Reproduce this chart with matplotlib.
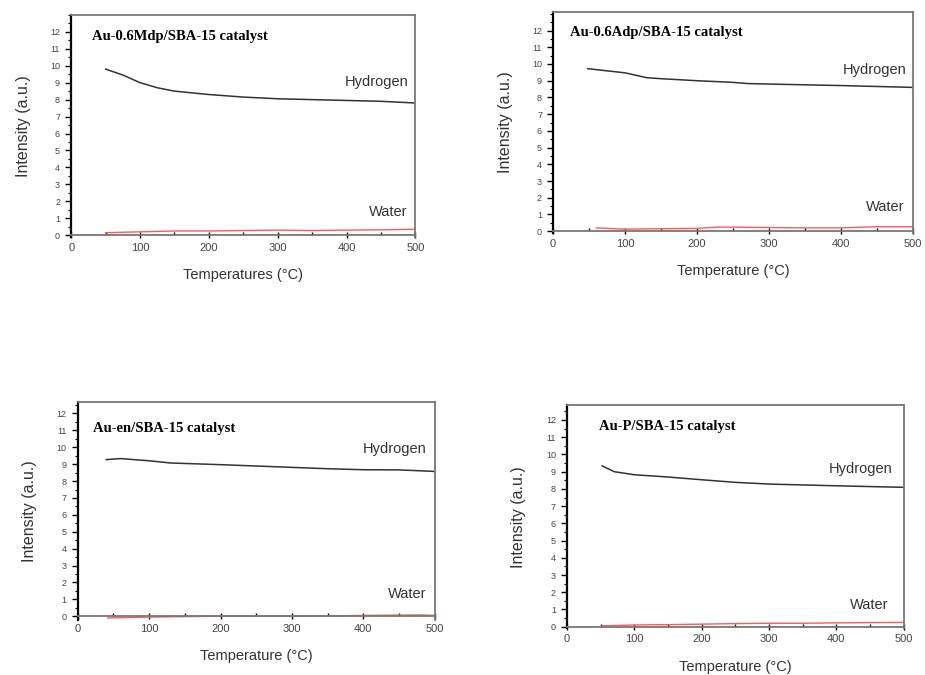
import numpy as np
import matplotlib.pyplot as plt
from matplotlib.ticker import MultipleLocator

plt.rcParams["font.family"] = ["Liberation Sans", "DejaVu Sans"]

# panel titles / axis labels
titles = ['Au-0.6Mdp/SBA-15 catalyst', 'Au-0.6Adp/SBA-15 catalyst',
          'Au-en/SBA-15 catalyst', 'Au-P/SBA-15 catalyst']
xlabels = ['Temperatures (°C)', 'Temperature (°C)', 'Temperature (°C)', 'Temperature (°C)']

# Hydrogen signal
h2_x = [
    [50, 75, 100, 125, 150, 200, 250, 300, 350, 400, 450, 500],
    [48, 100, 130, 150, 200, 250, 270, 300, 400, 500],
    [40, 60, 100, 130, 200, 300, 350, 400, 450, 500],
    [52, 70, 100, 150, 200, 250, 300, 400, 500],
]
h2_y = [
    [9.8, 9.45, 9.0, 8.7, 8.5, 8.3, 8.15, 8.05, 8.0, 7.95, 7.9, 7.8],
    [9.72, 9.47, 9.18, 9.12, 9.0, 8.9, 8.83, 8.8, 8.71, 8.6],
    [9.27, 9.33, 9.2, 9.07, 8.97, 8.81, 8.73, 8.67, 8.66, 8.57],
    [9.34, 9.0, 8.82, 8.69, 8.53, 8.38, 8.28, 8.18, 8.09],
]

# Water signal
w_x = [
    [50, 100, 150, 200, 250, 300, 350, 400, 450, 500],
    [60, 100, 150, 200, 230, 300, 350, 400, 450, 500],
    [42, 100, 150, 200, 250, 300, 350, 400, 480, 500],
    [52, 100, 150, 200, 250, 300, 350, 400, 450, 500],
]
w_y = [
    [0.15, 0.2, 0.25, 0.25, 0.28, 0.3, 0.28, 0.3, 0.32, 0.35],
    [0.2, 0.12, 0.15, 0.17, 0.25, 0.22, 0.2, 0.2, 0.27, 0.27],
    [-0.1, -0.05, -0.02, 0.0, 0.0, 0.0, 0.02, 0.05, 0.08, 0.05],
    [0.05, 0.1, 0.12, 0.15, 0.18, 0.2, 0.2, 0.22, 0.24, 0.25],
]

# layout: [left, bottom, width, height], ylim top, text spots
boxes = [[0.077, 0.649, 0.372, 0.329], [0.598, 0.655, 0.389, 0.327],
         [0.084, 0.082, 0.386, 0.323], [0.613, 0.069, 0.364, 0.331]]
ytops = [13.0, 13.1, 12.7, 12.87]
ybots = [-0.1, -0.1, -0.2, -0.1]
title_pos = [(30, 11.7), (23, 11.9), (21, 11.1), (47, 11.6)]
hyd_pos = [(490, 9.06), (491, 9.66), (488, 9.9), (483, 9.15)]
wat_pos = [(488, 1.36), (488, 1.45), (488, 1.3), (477, 1.24)]

fig = plt.figure(figsize=(9.25, 6.75), dpi=100)
for i in range(4):
    ax = fig.add_axes(boxes[i])
    ax.plot(h2_x[i], h2_y[i], color='#333333', linewidth=1.1)
    ax.plot(w_x[i], w_y[i], color='#ff5a5a', linewidth=1.0)
    ax.set_xlim(0, 500)
    ax.set_ylim(ybots[i], ytops[i])
    ax.xaxis.set_major_locator(MultipleLocator(100))
    ax.xaxis.set_minor_locator(MultipleLocator(50))
    ax.yaxis.set_major_locator(MultipleLocator(1))
    ax.yaxis.set_minor_locator(MultipleLocator(0.5))
    ax.set_yticks(np.arange(0, 13))
    ax.tick_params(axis='y', which='major', direction='out', length=4, width=1,
                   labelsize=6.5, labelcolor='#444444', pad=4)
    ax.tick_params(axis='y', which='minor', direction='out', length=2, width=0.8)
    ax.tick_params(axis='x', which='major', direction='inout', length=5, width=1,
                   labelsize=8, labelcolor='#444444', pad=3)
    ax.tick_params(axis='x', which='minor', direction='in', length=2, width=1)
    for s in ['top', 'right', 'bottom']:
        ax.spines[s].set_color('#777777')
        ax.spines[s].set_linewidth(1.3)
    ax.spines['bottom'].set_position(('data', 0))
    ax.spines['left'].set_color('black')
    ax.spines['left'].set_linewidth(1.6)
    ax.set_xlabel(xlabels[i], fontsize=10.5, color='#333333', labelpad=11)
    ax.set_ylabel('Intensity (a.u.)', fontsize=11.5, color='#333333', labelpad=14)
    ax.text(title_pos[i][0], title_pos[i][1], titles[i], family='Liberation Serif',
            fontweight='bold', fontsize=10.5, va='center', ha='left')
    ax.text(hyd_pos[i][0], hyd_pos[i][1], 'Hydrogen', fontsize=10.5, color='#333333',
            ha='right', va='center')
    ax.text(wat_pos[i][0], wat_pos[i][1], 'Water', fontsize=10.5, color='#333333',
            ha='right', va='center')

fig.savefig('out.png', dpi=100)
